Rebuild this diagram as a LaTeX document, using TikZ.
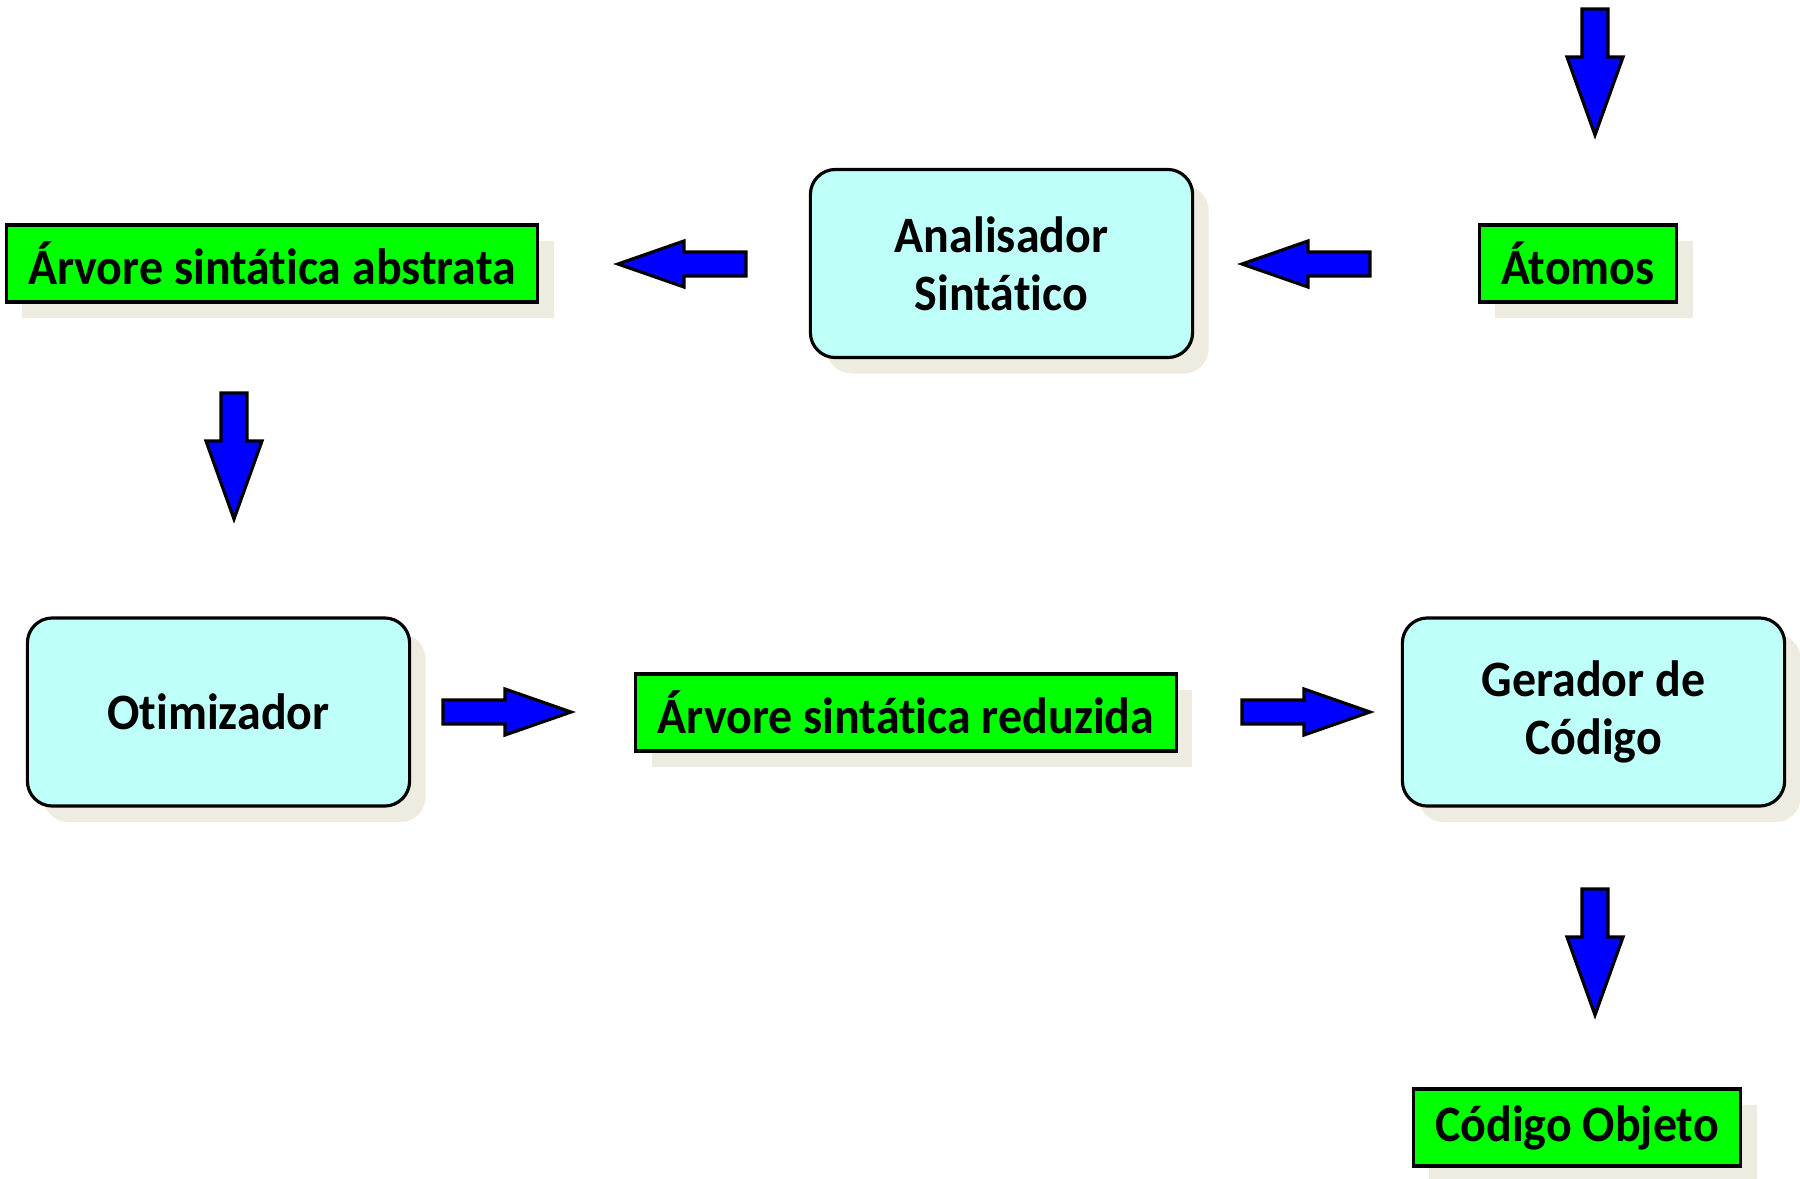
\documentclass[tikz,border=0pt]{standalone}
\usepackage{fontspec}
\setmainfont{Carlito}[FakeStretch=0.94, RawFeature={-liga}]
\usetikzlibrary{shadows}

\definecolor{boxgreen}{RGB}{0,255,0}
\definecolor{boxcyan}{RGB}{190,255,250}
\definecolor{shadowgray}{RGB}{238,235,224}

\tikzset{
  blockarrow/.style={fill=blue, draw=black, line width=0.9pt, line join=miter},
  rarrow/.pic={\path[blockarrow] (0,-12) -- (62,-12) -- (62,-23) -- (128,0)
    -- (62,23) -- (62,12) -- (0,12) -- cycle;},
  darrow/.pic={\path[blockarrow] (-13,0) -- (13,0) -- (13,48) -- (28,48)
    -- (0,126) -- (-28,48) -- (-13,48) -- cycle;},
}

\begin{document}
\begin{tikzpicture}[
	  x=0.01cm, y=-0.01cm,
	  font=\fontsize{14.5}{16.5}\selectfont\bfseries,
	  shade/.style={drop shadow={shadow xshift=0.16cm, shadow yshift=-0.16cm,
	    fill=shadowgray, opacity=1}},
	  data/.style={shade, draw=black, line width=0.9pt, fill=boxgreen,
	    inner xsep=0.22cm, minimum height=0.77cm},
	  phase/.style={shade, draw=black, line width=0.9pt, fill=boxcyan,
	    rounded corners=0.25cm, minimum width=3.82cm, minimum height=1.88cm,
	    align=center},
	]

	\useasboundingbox (0,0) rectangle (1800,1178);

	% top row
	\node [data] (abstrata) at (272,263.5) {Árvore sintática abstrata};
	\node [phase] (anal) at (1001.5,263.5) {Analisador\\Sintático};
	\node [data] (atomos) at (1578,263.5) {Átomos};

	% middle row
	\node [phase] (otim) at (218.5,712) {Otimizador};
	\node [data] (reduz) at (906,712.5) {Árvore sintática reduzida};
	\node [phase] (gerador) at (1593.5,712) {Gerador de\\Código};

	% bottom
	\node [data] (objeto) at (1577,1127.5) {Código Objeto};

	% block arrows
	\pic at (1595,9) {darrow};
	\pic [xscale=-1] at (1370,264) {rarrow};
	\pic [xscale=-1] at (746,264) {rarrow};
	\pic at (234,393) {darrow};
	\pic at (443,712) {rarrow};
	\pic at (1242,712) {rarrow};
	\pic at (1595,889) {darrow};
\end{tikzpicture}
\end{document}
